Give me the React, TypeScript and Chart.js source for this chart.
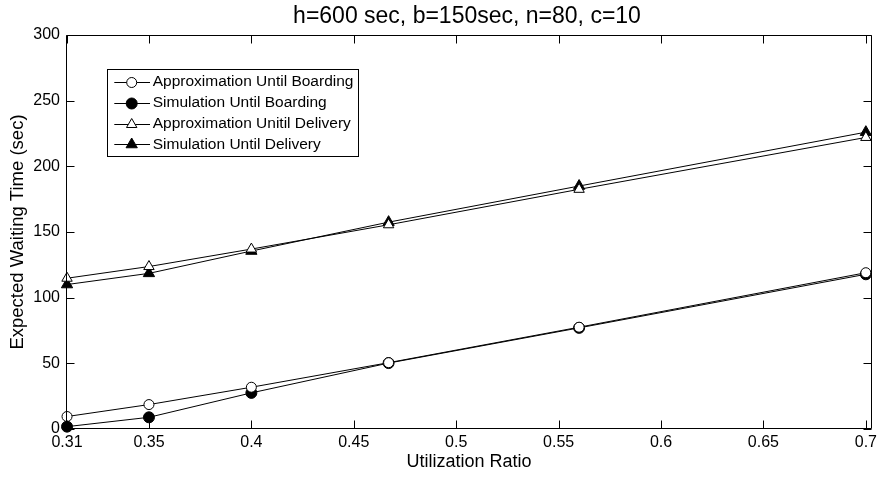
import React, { useEffect, useRef } from 'react';
import { Chart, registerables } from 'chart.js';

Chart.register(...registerables);

const titleText = 'h=600 sec, b=150sec, n=80, c=10';
const xAxisLabel = 'Utilization Ratio';
const yAxisLabel = 'Expected Waiting Time (sec)';

const utilization = [0.31, 0.35, 0.4, 0.467, 0.56, 0.7];
const approxBoarding = [9.5, 18.6, 31.8, 50.5, 77.5, 119];
const simBoarding = [1.8, 8.9, 27.5, 50.2, 77, 117.8];
const approxDelivery = [114.8, 123.7, 137, 155.5, 182.5, 222];
const simDelivery = [110, 118.5, 135.5, 157.5, 185, 226];

const seriesLabels = [
  'Approximation Until Boarding',
  'Simulation Until Boarding',
  'Approximation Unitil Delivery',
  'Simulation Until Delivery',
];

const xTicks = [0.31, 0.35, 0.4, 0.45, 0.5, 0.55, 0.6, 0.65, 0.7];
const yTicks = [0, 50, 100, 150, 200, 250, 300];

const FONT = '"Liberation Sans", Arial, Helvetica, sans-serif';

function drawMarker(ctx: CanvasRenderingContext2D, style: string, x: number, y: number, r: number, fill: string) {
  ctx.beginPath();
  if (style === 'triangle') {
    ctx.moveTo(x, y - r);
    ctx.lineTo(x + Math.sin((2 * Math.PI) / 3) * r, y - Math.cos((2 * Math.PI) / 3) * r);
    ctx.lineTo(x + Math.sin((4 * Math.PI) / 3) * r, y - Math.cos((4 * Math.PI) / 3) * r);
    ctx.closePath();
  } else {
    ctx.arc(x, y, r, 0, Math.PI * 2);
  }
  ctx.fillStyle = fill;
  ctx.fill();
  ctx.strokeStyle = '#000';
  ctx.lineWidth = 1;
  ctx.stroke();
}

const framePlugin = {
  id: 'matlabFrame',
  afterDatasetsDraw(chart: any) {
    const { ctx, chartArea, scales } = chart;
    const { left, right, top, bottom } = chartArea;
    const L = Math.round(left) + 0.5;
    const R = Math.round(right) - 0.5;
    const T = Math.round(top) + 0.5;
    const B = Math.round(bottom) - 0.5;
    const tickLen = 8;
    ctx.save();
    ctx.strokeStyle = '#000';
    ctx.lineWidth = 1;
    ctx.beginPath();
    ctx.rect(L, T, R - L, B - T);
    ctx.stroke();
    ctx.beginPath();
    scales.x.ticks.forEach((t: any) => {
      const px = Math.round(scales.x.getPixelForValue(t.value)) + 0.5;
      ctx.moveTo(px, B);
      ctx.lineTo(px, B - tickLen);
      ctx.moveTo(px, T);
      ctx.lineTo(px, T + tickLen);
    });
    scales.y.ticks.forEach((t: any) => {
      const py = Math.round(scales.y.getPixelForValue(t.value)) + 0.5;
      ctx.moveTo(L, py);
      ctx.lineTo(L + tickLen, py);
      ctx.moveTo(R, py);
      ctx.lineTo(R - tickLen, py);
    });
    ctx.stroke();
    ctx.restore();
  },
  afterDraw(chart: any) {
    const { ctx, chartArea } = chart;
    ctx.save();
    // title
    ctx.fillStyle = '#000';
    ctx.font = `23px ${FONT}`;
    ctx.textAlign = 'center';
    ctx.textBaseline = 'alphabetic';
    ctx.fillText(titleText, (chartArea.left + chartArea.right) / 2 - 2, 22.7);

    // legend
    const boxLeft = 107.5;
    const boxTop = 69.5;
    const boxBottom = 156.5;
    const textX = 152.7;
    const rowY0 = 81.7;
    const rowGap = 20.9;
    ctx.font = `15.5px ${FONT}`;
    let maxW = 0;
    chart.data.datasets.forEach((ds: any) => {
      maxW = Math.max(maxW, ctx.measureText(ds.label).width);
    });
    const boxRight = Math.round(textX + maxW + 5) + 0.5;
    ctx.fillStyle = '#fff';
    ctx.fillRect(boxLeft, boxTop, boxRight - boxLeft, boxBottom - boxTop);
    ctx.strokeStyle = '#000';
    ctx.lineWidth = 1;
    ctx.strokeRect(boxLeft, boxTop, boxRight - boxLeft, boxBottom - boxTop);
    chart.data.datasets.forEach((ds: any, i: number) => {
      const y = rowY0 + i * rowGap;
      ctx.beginPath();
      ctx.strokeStyle = '#000';
      ctx.lineWidth = 1;
      ctx.moveTo(114.3, Math.round(y) + 0.5);
      ctx.lineTo(150, Math.round(y) + 0.5);
      ctx.stroke();
      drawMarker(ctx, ds.pointStyle, 131.7, Math.round(y) + 0.5, ds.pointRadius, ds.pointBackgroundColor);
      ctx.fillStyle = '#000';
      ctx.textAlign = 'left';
      ctx.textBaseline = 'middle';
      ctx.fillText(ds.label, textX, y + 0.5);
    });
    ctx.restore();
  },
};

function makeSeries(label: string, values: number[], style: string, radius: number, fill: string) {
  return {
    label,
    data: utilization.map((x, i) => ({ x, y: values[i] })),
    borderColor: '#000',
    borderWidth: 1,
    pointStyle: style,
    pointRadius: radius,
    pointHoverRadius: radius,
    pointBackgroundColor: fill,
    pointBorderColor: '#000',
    pointBorderWidth: 1,
    fill: false,
    tension: 0,
    clip: false,
  };
}

export default function App() {
  const canvasRef = useRef<HTMLCanvasElement | null>(null);

  useEffect(() => {
    if (!canvasRef.current) return;
    const chart = new Chart(canvasRef.current, {
      type: 'line',
      data: {
        datasets: [
          makeSeries(seriesLabels[0], approxBoarding, 'circle', 5, '#fff'),
          makeSeries(seriesLabels[1], simBoarding, 'circle', 5.5, '#000'),
          makeSeries(seriesLabels[2], approxDelivery, 'triangle', 6, '#fff'),
          makeSeries(seriesLabels[3], simDelivery, 'triangle', 6.5, '#000'),
        ] as any,
      },
      options: {
        responsive: false,
        devicePixelRatio: 1,
        animation: false,
        layout: { padding: { top: 35, right: 11, left: 0, bottom: 0 } },
        plugins: {
          legend: { display: false },
          title: { display: false },
          tooltip: { enabled: false },
        },
        scales: {
          x: {
            type: 'linear',
            min: 0.3095,
            max: 0.703,
            afterBuildTicks: (s: any) => {
              s.ticks = xTicks.map((v) => ({ value: v }));
            },
            afterFit: (s: any) => {
              s.height = 51;
            },
            grid: { display: false, drawTicks: false },
            border: { display: false },
            ticks: {
              autoSkip: false,
              maxRotation: 0,
              color: '#000',
              padding: 4,
              font: { size: 16, family: FONT },
              callback: (v: any) => String(v),
            },
            title: {
              display: true,
              text: xAxisLabel,
              color: '#000',
              font: { size: 18, family: FONT },
              padding: { top: 0, bottom: 7 },
            },
          },
          y: {
            type: 'linear',
            min: 0,
            max: 300,
            afterBuildTicks: (s: any) => {
              s.ticks = yTicks.map((v) => ({ value: v }));
            },
            afterFit: (s: any) => {
              s.width = 66;
            },
            grid: { display: false, drawTicks: false },
            border: { display: false },
            ticks: {
              color: '#000',
              padding: 6,
              font: { size: 16, family: FONT },
              callback: (v: any) => String(v),
            },
            title: {
              display: true,
              text: yAxisLabel,
              color: '#000',
              font: { size: 18.5, family: FONT },
              padding: { top: 7, bottom: 0 },
            },
          },
        },
      } as any,
      plugins: [framePlugin],
    });
    return () => chart.destroy();
  }, []);

  return (
    <canvas
      ref={canvasRef}
      width={883}
      height={480}
      style={{ position: 'absolute', left: 0, top: 0, width: 883, height: 480, display: 'block', background: '#fff' }}
    />
  );
}
